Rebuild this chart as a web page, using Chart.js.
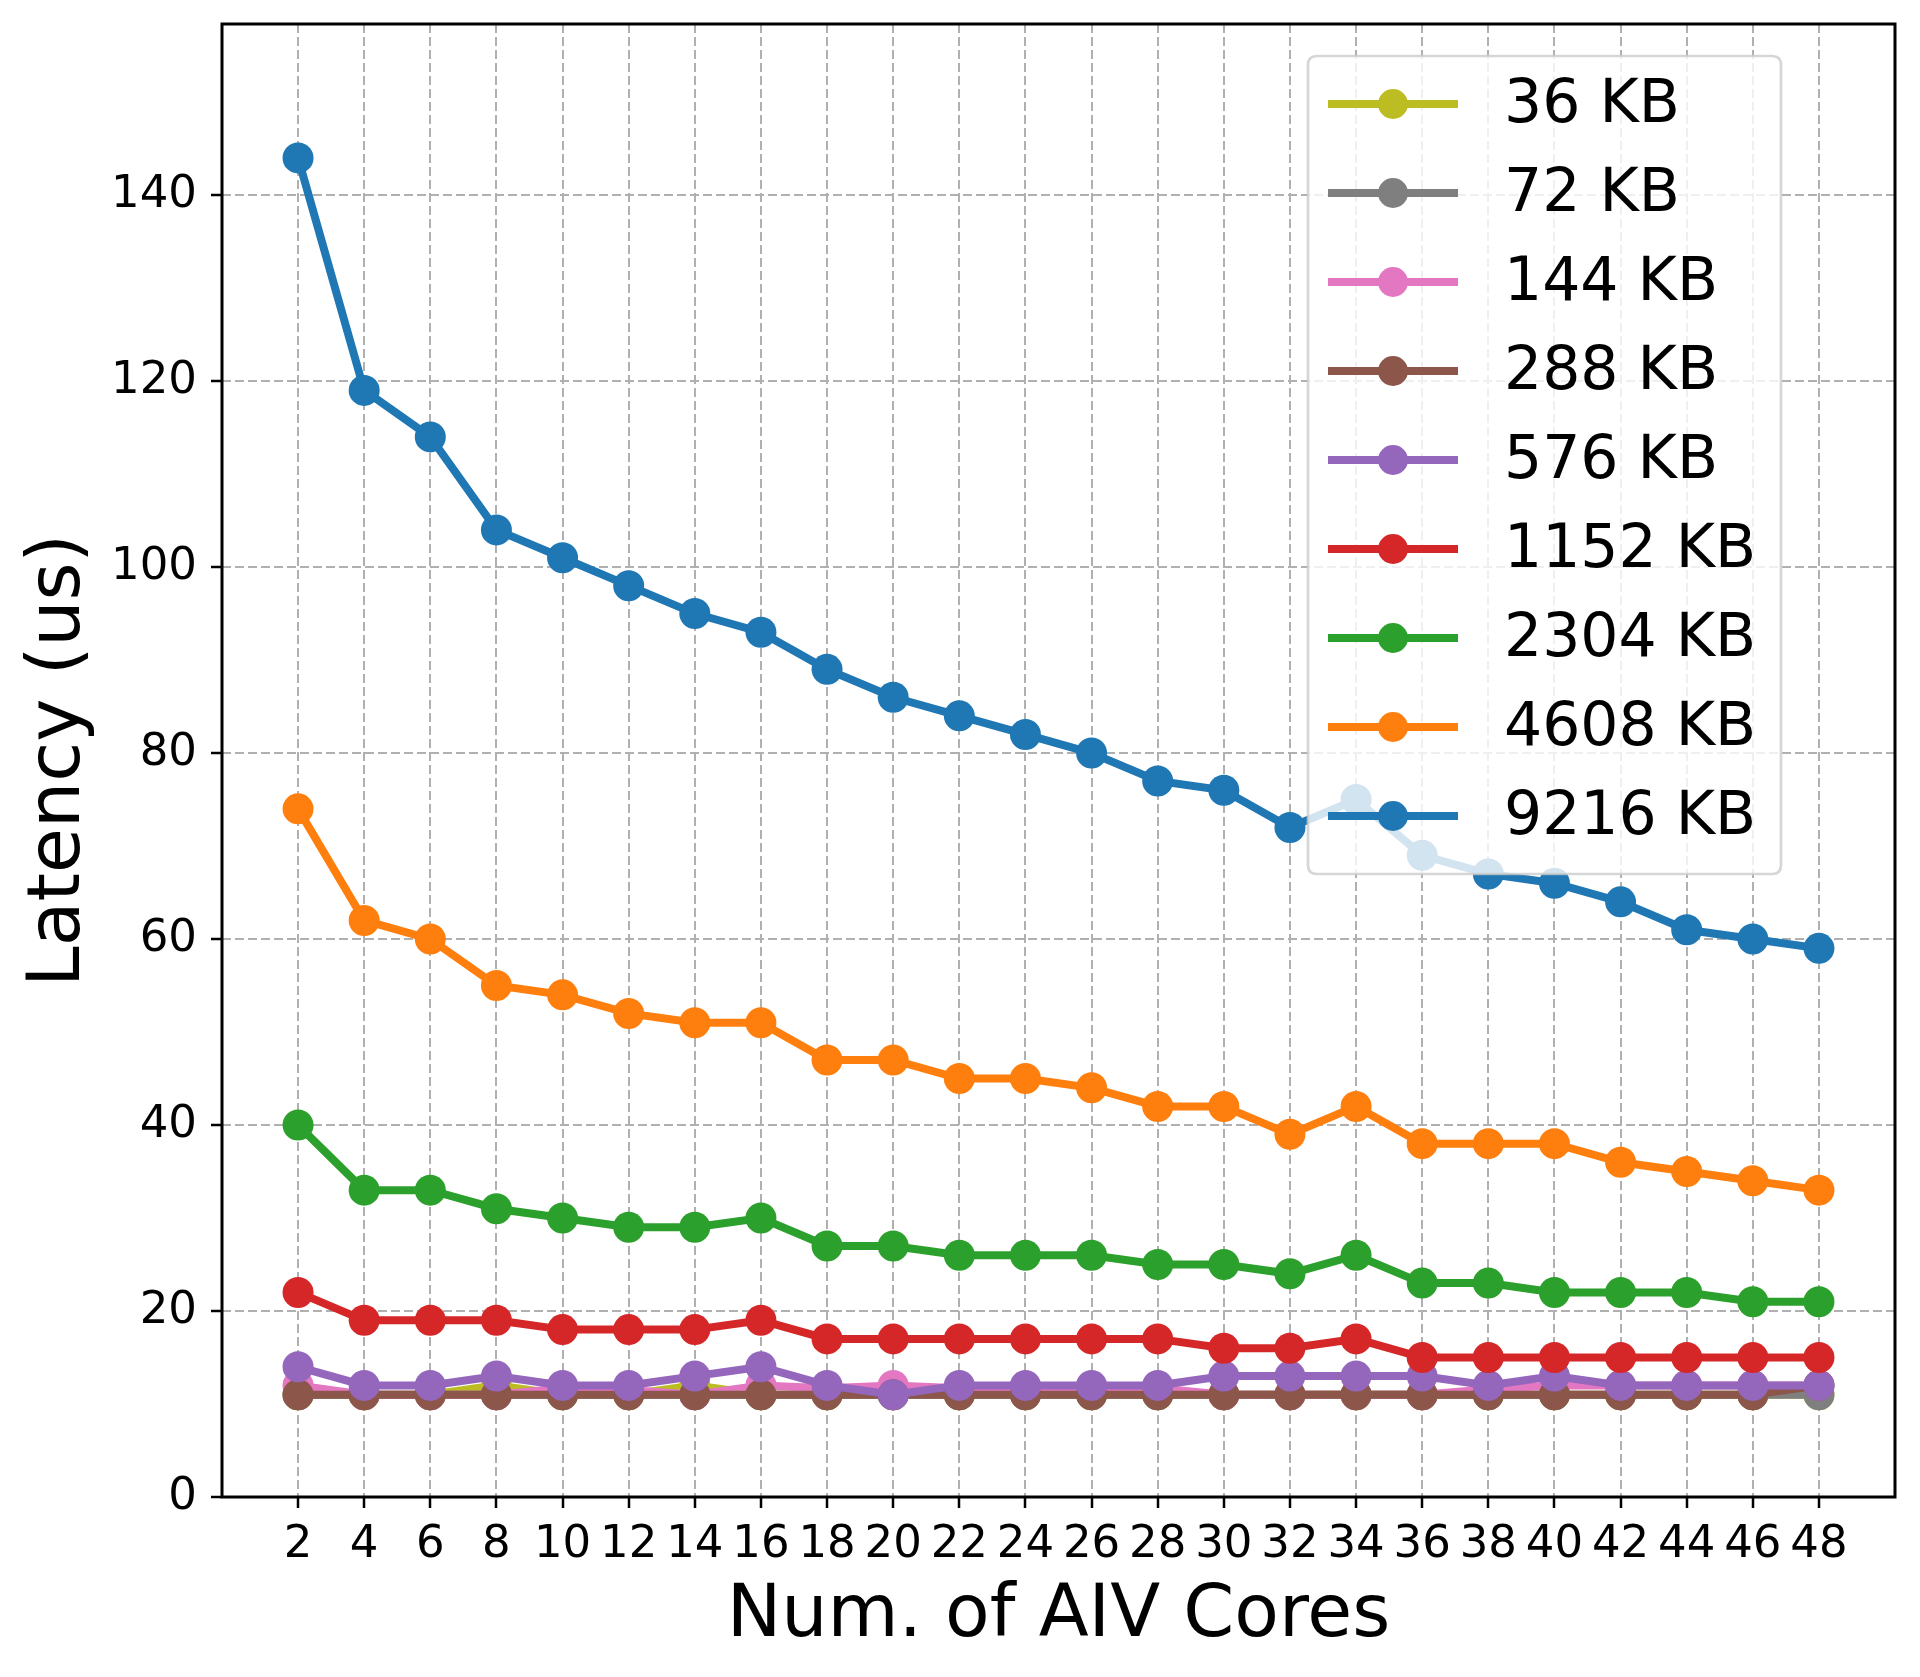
<!DOCTYPE html>
<html>
<head>
<meta charset="utf-8">
<script src="https://cdn.jsdelivr.net/npm/chart.js@4.4.1/dist/chart.umd.min.js"></script>
<style>
  html, body { margin: 0; padding: 0; background: #ffffff; }
  canvas { display: block; }
</style>
</head>
<body>
<canvas id="c" width="1920" height="1677"></canvas>
<script>
// ---------- data ----------
const cores = [2, 4, 6, 8, 10, 12, 14, 16, 18, 20, 22, 24, 26, 28, 30, 32, 34, 36, 38, 40, 42, 44, 46, 48];
const yTicks = [0, 20, 40, 60, 80, 100, 120, 140];
const seriesLabels = ['36 KB', '72 KB', '144 KB', '288 KB', '576 KB', '1152 KB', '2304 KB', '4608 KB', '9216 KB'];
const seriesColors = ['#bcbd22', '#7f7f7f', '#e377c2', '#8c564b', '#9467bd', '#d62728', '#2ca02c', '#ff7f0e', '#1f77b4'];

const lat36   = [11, 11, 11, 12, 11, 11, 12, 11, 11, 11, 11, 11, 11, 11, 11, 11, 11, 11, 11, 11, 11, 11, 11, 11];
const lat72   = [11, 11, 11, 11, 11, 11, 11, 11, 11, 11, 11, 11, 11, 11, 11, 11, 11, 11, 11, 11, 11, 11, 11, 11];
const lat144  = [12, 11, 11, 11, 11.7, 11.5, 11, 12, 11.7, 12, 11.7, 11.7, 11.7, 11.7, 11, 11, 11, 11, 11.6, 12, 12, 12, 12, 12];
const lat288  = [11, 11, 11, 11, 11, 11, 11, 11, 11, 11, 11, 11, 11, 11, 11, 11, 11, 11, 11, 11, 11, 11, 11, 12];
const lat576  = [14, 12, 12, 13, 12, 12, 13, 14, 12, 11, 12, 12, 12, 12, 13, 13, 13, 13, 12, 13, 12, 12, 12, 12];
const lat1152 = [22, 19, 19, 19, 18, 18, 18, 19, 17, 17, 17, 17, 17, 17, 16, 16, 17, 15, 15, 15, 15, 15, 15, 15];
const lat2304 = [40, 33, 33, 31, 30, 29, 29, 30, 27, 27, 26, 26, 26, 25, 25, 24, 26, 23, 23, 22, 22, 22, 21, 21];
const lat4608 = [74, 62, 60, 55, 54, 52, 51, 51, 47, 47, 45, 45, 44, 42, 42, 39, 42, 38, 38, 38, 36, 35, 34, 33];
const lat9216 = [144, 119, 114, 104, 101, 98, 95, 93, 89, 86, 84, 82, 80, 77, 76, 72, 75, 69, 67, 66, 64, 61, 60, 59];

const seriesValues = [lat36, lat72, lat144, lat288, lat576, lat1152, lat2304, lat4608, lat9216];

const xTitle = 'Num. of AIV Cores';
const yTitle = 'Latency (us)';

// ---------- chart ----------
const FONT = "'DejaVu Sans', 'Liberation Sans', sans-serif";

const datasets = seriesValues.map((vals, i) => ({
  label: seriesLabels[i],
  data: vals.map((v, j) => ({ x: cores[j], y: v })),
  borderColor: seriesColors[i],
  backgroundColor: seriesColors[i],
  pointBackgroundColor: seriesColors[i],
  pointBorderColor: seriesColors[i],
  pointBorderWidth: 0,
  pointRadius: 15.5,
  pointHoverRadius: 15.5,
  borderWidth: 8,
  tension: 0,
  fill: false,
  order: seriesValues.length - i
}));

const decorPlugin = {
  id: 'decor',
  afterDatasetsDraw(chart) {
    const ctx = chart.ctx;
    const a = chart.chartArea;
    ctx.save();
    // spines
    ctx.strokeStyle = '#000000';
    ctx.lineWidth = 3;
    ctx.setLineDash([]);
    ctx.strokeRect(a.left, a.top, a.right - a.left, a.bottom - a.top);

    // legend
    const lx = 1308, ly = 56, lw = 473, lh = 818, r = 9;
    ctx.beginPath();
    ctx.moveTo(lx + r, ly);
    ctx.lineTo(lx + lw - r, ly);
    ctx.quadraticCurveTo(lx + lw, ly, lx + lw, ly + r);
    ctx.lineTo(lx + lw, ly + lh - r);
    ctx.quadraticCurveTo(lx + lw, ly + lh, lx + lw - r, ly + lh);
    ctx.lineTo(lx + r, ly + lh);
    ctx.quadraticCurveTo(lx, ly + lh, lx, ly + lh - r);
    ctx.lineTo(lx, ly + r);
    ctx.quadraticCurveTo(lx, ly, lx + r, ly);
    ctx.closePath();
    ctx.fillStyle = 'rgba(255,255,255,0.8)';
    ctx.fill();
    ctx.strokeStyle = 'rgba(204,204,204,0.8)';
    ctx.lineWidth = 2.7;
    ctx.stroke();

    const rowStart = 104, rowStep = 89;
    chart.data.datasets.forEach((ds, i) => {
      const y = rowStart + i * rowStep;
      ctx.strokeStyle = ds.borderColor;
      ctx.lineWidth = 8;
      ctx.beginPath();
      ctx.moveTo(1328, y);
      ctx.lineTo(1458, y);
      ctx.stroke();
      ctx.fillStyle = ds.borderColor;
      ctx.beginPath();
      ctx.arc(1393, y, 15, 0, Math.PI * 2);
      ctx.fill();
      ctx.fillStyle = '#000000';
      ctx.font = '60px ' + FONT;
      ctx.textAlign = 'left';
      ctx.textBaseline = 'middle';
      ctx.fillText(ds.label, 1504, y + 2);
    });

    // axis titles
    ctx.fillStyle = '#000000';
    ctx.font = '73px ' + FONT;
    ctx.textAlign = 'center';
    ctx.textBaseline = 'alphabetic';
    ctx.fillText(xTitle, (a.left + a.right) / 2, 1636);
    ctx.save();
    ctx.translate(79, (a.top + a.bottom) / 2);
    ctx.rotate(-Math.PI / 2);
    ctx.fillText(yTitle, 0, 0);
    ctx.restore();
    ctx.restore();
  }
};

new Chart(document.getElementById('c'), {
  type: 'line',
  data: { datasets },
  options: {
    responsive: false,
    animation: false,
    devicePixelRatio: 1,
    events: [],
    layout: { padding: { top: 24, right: 25, left: 0, bottom: 0 } },
    plugins: { legend: { display: false }, tooltip: { enabled: false }, title: { display: false } },
    scales: {
      x: {
        type: 'linear',
        min: -0.3,
        max: 50.3,
        afterBuildTicks(s) { s.ticks = cores.map(v => ({ value: v })); },
        afterFit(s) { s.height = 180; s.paddingLeft = 0; s.paddingRight = 0; s.paddingTop = 0; s.paddingBottom = 0; },
        ticks: {
          autoSkip: false,
          maxRotation: 0,
          minRotation: 0,
          padding: 10,
          color: '#000000',
          font: { family: FONT, size: 45 },
          callback: (v) => String(v)
        },
        grid: {
          color: '#b0b0b0',
          lineWidth: 2,
          tickLength: 11,
          tickColor: '#000000',
          tickWidth: 2.5,
          tickBorderDash: []
        },
        border: { display: false, dash: [9, 4] }
      },
      y: {
        type: 'linear',
        min: 0,
        max: 158.4,
        afterBuildTicks(s) { s.ticks = yTicks.map(v => ({ value: v })); },
        afterFit(s) { s.width = 222; s.paddingTop = 0; s.paddingBottom = 0; s.paddingLeft = 0; s.paddingRight = 0; },
        ticks: {
          padding: 14,
          color: '#000000',
          font: { family: FONT, size: 45 },
          callback: (v) => String(v)
        },
        grid: {
          color: '#b0b0b0',
          lineWidth: 2,
          tickLength: 11,
          tickColor: '#000000',
          tickWidth: 2.5,
          tickBorderDash: []
        },
        border: { display: false, dash: [9, 4] }
      }
    }
  },
  plugins: [decorPlugin]
});
</script>
</body>
</html>
